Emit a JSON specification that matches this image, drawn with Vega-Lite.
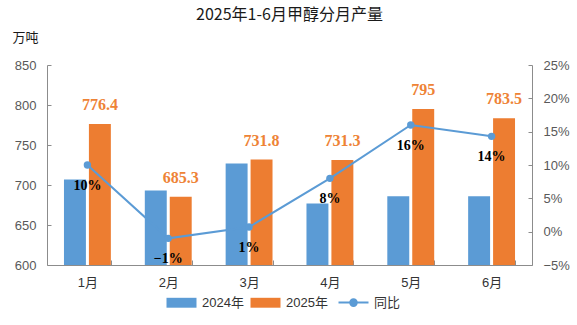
{
  "$schema": "https://vega.github.io/schema/vega-lite/v6.json",
  "autosize": {"type": "none"},
  "padding": {"left": 47, "top": 65, "right": 45, "bottom": 60},
  "width": 485,
  "height": 200,
  "background": "white",
  "title": {
    "text": "2025年1-6月甲醇分月产量",
    "anchor": "middle",
    "font": "Noto Sans CJK SC",
    "fontSize": 16,
    "fontWeight": "normal",
    "color": "#1a1a1a",
    "offset": 8
  },
  "config": {
    "view": {"stroke": null},
    "axis": {
      "labelFont": "Liberation Sans, Noto Sans CJK SC",
      "labelFontSize": 13,
      "labelColor": "#595959",
      "domainColor": "#8c8c8c",
      "tickColor": "#8c8c8c",
      "grid": false
    }
  },
  "datasets": {
    "bars": [
      {"month": "1月", "year": "2024年", "value": 707},
      {"month": "1月", "year": "2025年", "value": 776.4},
      {"month": "2月", "year": "2024年", "value": 693},
      {"month": "2月", "year": "2025年", "value": 685.3},
      {"month": "3月", "year": "2024年", "value": 727},
      {"month": "3月", "year": "2025年", "value": 731.8},
      {"month": "4月", "year": "2024年", "value": 677},
      {"month": "4月", "year": "2025年", "value": 731.3},
      {"month": "5月", "year": "2024年", "value": 686},
      {"month": "5月", "year": "2025年", "value": 795},
      {"month": "6月", "year": "2024年", "value": 686},
      {"month": "6月", "year": "2025年", "value": 783.5}
    ],
    "yoy": [
      {"month": "1月", "yoy": 0.10},
      {"month": "2月", "yoy": -0.01},
      {"month": "3月", "yoy": 0.007},
      {"month": "4月", "yoy": 0.08},
      {"month": "5月", "yoy": 0.16},
      {"month": "6月", "yoy": 0.143}
    ]
  },
  "layer": [
    {
      "data": {"name": "bars"},
      "encoding": {
        "x": {
          "field": "month", "type": "nominal", "sort": ["1月","2月","3月","4月","5月","6月"],
          "scale": {"paddingInner": 0.42, "paddingOuter": 0.21},
          "axis": {"title": null, "labelAngle": 0, "tickBand": "extent", "tickSize": -5, "labelPadding": 16, "labelColor": "#333333"}
        },
        "xOffset": {"field": "year", "type": "nominal", "scale": {"paddingInner": 0.12, "paddingOuter": 0}},
        "y": {
          "field": "value", "type": "quantitative",
          "scale": {"domain": [600, 850], "zero": false},
          "axis": {
            "title": "万吨", "titleAngle": 0, "titleX": -35, "titleY": -28, "titleAlign": "left", "titleBaseline": "middle",
            "titleFont": "Noto Sans CJK SC", "titleFontSize": 13, "titleFontWeight": "normal", "titleColor": "#1a1a1a",
            "values": [600, 650, 700, 750, 800, 850], "tickSize": -4, "labelPadding": 15
          }
        }
      },
      "layer": [
        {
          "mark": {"type": "bar", "clip": true},
          "encoding": {
            "color": {
              "field": "year", "type": "nominal",
              "scale": {"domain": ["2024年", "2025年", "同比"], "range": ["#5B9BD5", "#ED7D31", "#5B9BD5"]},
              "legend": {
                "title": null, "orient": "none", "direction": "horizontal", "legendX": 128, "legendY": 231,
                "symbolSize": 900, "labelOffset": 14, "columnPadding": 6,
                "labelFont": "Liberation Sans, Noto Sans CJK SC", "labelFontSize": 13, "labelColor": "#333333",
                "encode": {
                  "symbols": {
                    "update": {
                      "shape": {"signal": "datum.value === '同比' ? 'M-1,0H1M-0.22,0A0.22,0.22 0 1,0 0.22,0A0.22,0.22 0 1,0 -0.22,0Z' : 'M-1,-0.33H1V0.33H-1Z'"},
                      "fill": {"scale": "color", "field": "value"},
                      "stroke": {"scale": "color", "field": "value"},
                      "strokeWidth": {"signal": "datum.value === '同比' ? 2 : 0"},
                      "opacity": {"value": 1}
                    }
                  }
                }
              }
            }
          }
        },
        {
          "transform": [{"filter": "datum.year === '2025年'"}],
          "mark": {"type": "text", "dy": -19, "font": "Liberation Serif, Noto Sans CJK SC", "fontSize": 16, "fontWeight": "bold", "color": "#EE8336", "baseline": "middle"},
          "encoding": {
            "text": {"field": "value", "type": "quantitative", "format": ".1~f"}
          }
        }
      ]
    },
    {
      "data": {"name": "yoy"},
      "encoding": {
        "x": {"field": "month", "type": "nominal", "sort": ["1月","2月","3月","4月","5月","6月"]},
        "y": {
          "field": "yoy", "type": "quantitative",
          "scale": {"domain": [-0.05, 0.25], "zero": false},
          "axis": {"title": null, "orient": "right", "format": ".0%", "values": [-0.05, 0, 0.05, 0.1, 0.15, 0.2, 0.25], "tickSize": -4, "labelPadding": 15}
        }
      },
      "layer": [
        {
          "mark": {"type": "line", "strokeWidth": 2, "point": {"filled": true, "size": 55}},
          "encoding": {"color": {"datum": "同比"}}
        },
        {
          "mark": {"type": "text", "dy": 21, "font": "Liberation Serif", "fontSize": 14, "fontWeight": "bold", "color": "#000000", "baseline": "middle"},
          "encoding": {"text": {"field": "yoy", "type": "quantitative", "format": ".0%"}}
        }
      ]
    }
  ],
  "resolve": {"scale": {"y": "independent"}}
}
